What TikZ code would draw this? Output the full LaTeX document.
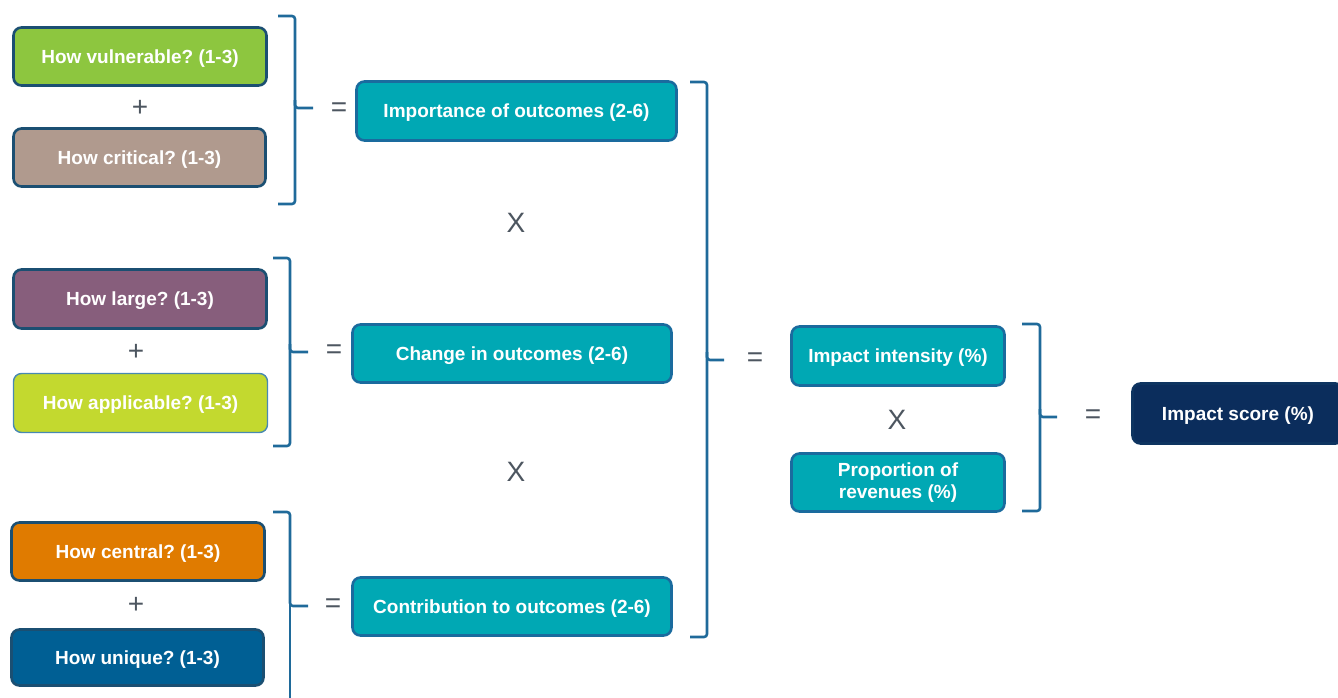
\documentclass[tikz,border=0pt]{standalone}
\usepackage{fontspec}
\setmainfont{Liberation Sans}
\frenchspacing
\definecolor{bordDark}{HTML}{1B4F72}
\definecolor{bordTeal}{HTML}{1A6B9E}
\definecolor{braceC}{HTML}{1F6A9A}
\definecolor{opC}{HTML}{4D5660}
\definecolor{cGreen}{HTML}{8DC63F}
\definecolor{cTaupe}{HTML}{B09A8E}
\definecolor{cMauve}{HTML}{875E7C}
\definecolor{cLime}{HTML}{C3D92F}
\definecolor{cOrange}{HTML}{E07B00}
\definecolor{cBlue}{HTML}{005F94}
\definecolor{cTeal}{HTML}{00A8B4}
\definecolor{cNavy}{HTML}{0B2D5C}
\tikzset{
  qbox/.style={rounded corners=8pt, draw=bordDark, line width=2.6pt, text=white,
    font=\bfseries\fontsize{19}{22}\selectfont, inner sep=0pt, align=center,
    text height=17.5pt, text depth=4pt,
    minimum width=253pt, minimum height=58pt},
  tbox/.style={qbox, draw=bordTeal, fill=cTeal},
  opnode/.style={text=opC, font=\fontsize{28}{30}\selectfont, inner sep=0pt},
  brace/.style={draw=braceC, line width=2.6pt, rounded corners=3pt}
}
\begin{document}
\begin{tikzpicture}[x=1pt,y=-1pt]
\useasboundingbox (0,0) rectangle (1338,697);
\clip (0,0) rectangle (1338,697);
% left question boxes
\node[qbox, fill=cGreen] (vul) at (140,56.5) {How vulnerable? (1-3)};
\node[qbox, fill=cTaupe, minimum width=252pt] (crit) at (139.5,157.5) {How critical? (1-3)};
\node[qbox, fill=cMauve, minimum height=59pt] (large) at (140,299) {How large? (1-3)};
\node[qbox, fill=cLime, draw=bordTeal!80, line width=1.4pt, minimum width=254pt, minimum height=59pt] (appl) at (140.5,403) {How applicable? (1-3)};
\node[qbox, fill=cOrange] (cent) at (138,551.5) {How central? (1-3)};
\node[qbox, fill=cBlue, minimum width=252pt, minimum height=56pt] (uniq) at (137.5,657.5) {How unique? (1-3)};
% plus signs
\node[opnode] (p1) at (140,108) {+};
\node[opnode] (p2) at (136,352) {+};
\node[opnode] (p3) at (136,605) {+};
% braces level 1
\draw[brace] (278,16) -- (295,16) -- (295,108) -- (313,108);
\draw[brace] (295,100) -- (295,204) -- (278,204);
\draw[brace] (273,258) -- (290,258) -- (290,352) -- (308,352);
\draw[brace] (290,344) -- (290,446) -- (273,446);
\draw[brace] (273,512) -- (290,512) -- (290,606) -- (308,606);
\draw[brace] (290,598) -- (290,710);
% equals
\node[opnode] (e1) at (339,110) {=};
\node[opnode] (e2) at (334,352) {=};
\node[opnode] (e3) at (333,606) {=};
% middle boxes
\node[tbox, minimum width=320pt, minimum height=59pt] (imp) at (516.5,111) {Importance of outcomes (2-6)};
\node[tbox, minimum width=319pt] (chg) at (512,353.5) {Change in outcomes (2-6)};
\node[tbox, minimum width=319pt] (contr) at (512,606.5) {Contribution to outcomes (2-6)};
\node[opnode] (x1) at (516,223) {X};
\node[opnode] (x2) at (516,472) {X};
% big brace
\draw[brace] (690,82) -- (707,82) -- (707,360) -- (724,360);
\draw[brace] (707,352) -- (707,637) -- (690,637);
\node[opnode] (e4) at (755,360) {=};
% right boxes
\node[tbox, minimum width=213pt, minimum height=59pt] (inten) at (898,356) {Impact intensity (\%)};
\node[tbox, minimum width=213pt, minimum height=58pt, text height=, text depth=, font=\bfseries\fontsize{19}{22}\selectfont] (prop) at (898,482.5) {Proportion of\\revenues (\%)};
\node[opnode] (x3) at (897,420) {X};
% brace 4
\draw[brace] (1022,324) -- (1040,324) -- (1040,417) -- (1057,417);
\draw[brace] (1040,409) -- (1040,511) -- (1022,511);
\node[opnode] (e5) at (1093,417) {=};
\node[qbox, fill=cNavy, draw=cNavy!80!bordDark, minimum width=211pt, minimum height=60pt] (score) at (1238,413.5) {Impact score (\%)};
\end{tikzpicture}
\end{document}
